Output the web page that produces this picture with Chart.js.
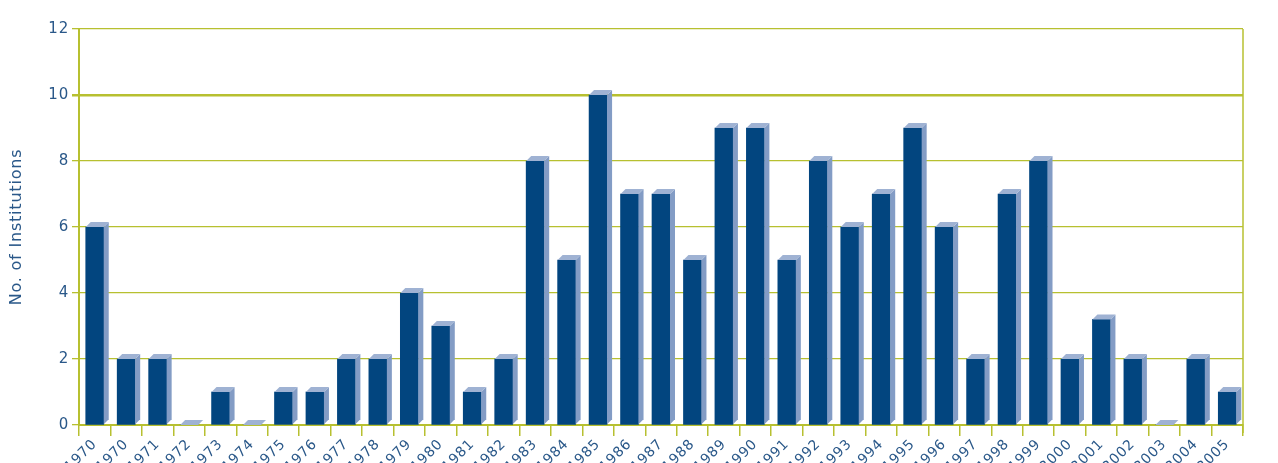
<!DOCTYPE html>
<html lang="en">
<head>
    <meta charset="UTF-8">
    <title>Institutions per year</title>
    <script src="https://cdn.jsdelivr.net/npm/chart.js@4"></script>
    <style>
        html, body { margin: 0; padding: 0; background: #fff; overflow: hidden; }
    </style>
</head>
<body>

<canvas id="institutions_chart" width="1278" height="463"></canvas>

<script>
    var years = ['1970', '1970', '1971', '1972', '1973', '1974', '1975', '1976', '1977', '1978',
        '1979', '1980', '1981', '1982', '1983', '1984', '1985', '1986', '1987', '1988',
        '1989', '1990', '1991', '1992', '1993', '1994', '1995', '1996', '1997', '1998',
        '1999', '2000', '2001', '2002', '2003', '2004', '2005'];
    var institutions = [6, 2, 2, 0, 1, 0, 1, 1, 2, 2,
        4, 3, 1, 2, 8, 5, 10, 7, 7, 5,
        9, 9, 5, 8, 6, 7, 9, 6, 2, 7,
        8, 2, 3.2, 2, 0, 2, 1];
    var yTicks = [0, 2, 4, 6, 8, 10, 12];

    var olive = '#b7c030';
    var navy = '#02457f';
    var labelBlue = '#2a5889';

    // fake 3d cap + side on each bar
    var bars3d = {
        id: 'bars3d',
        beforeDraw: function (chart) {
            chart.ctx.letterSpacing = '0.8px';
        },
        afterDatasetsDraw: function (chart) {
            var ctx = chart.ctx;
            var d = 5;
            ctx.save();
            chart.getDatasetMeta(0).data.forEach(function (bar) {
                var p = bar.getProps(['x', 'y', 'base', 'width'], true);
                var l = p.x - p.width / 2, r = p.x + p.width / 2;
                ctx.fillStyle = '#839cc5';
                ctx.beginPath();
                ctx.moveTo(r, p.y);
                ctx.lineTo(r + d, p.y - d);
                ctx.lineTo(r + d, p.base - d);
                ctx.lineTo(r, p.base);
                ctx.closePath();
                ctx.fill();
                ctx.fillStyle = '#9fb2d3';
                ctx.beginPath();
                ctx.moveTo(l, p.y);
                ctx.lineTo(l + d, p.y - d);
                ctx.lineTo(r + d, p.y - d);
                ctx.lineTo(r, p.y);
                ctx.closePath();
                ctx.fill();
            });
            // right wall line
            var a = chart.chartArea;
            ctx.strokeStyle = olive;
            ctx.lineWidth = 1.5;
            ctx.beginPath();
            ctx.moveTo(a.right, a.top);
            ctx.lineTo(a.right, a.bottom + 8);
            ctx.stroke();
            ctx.restore();
        }
    };

    var ctx = document.getElementById('institutions_chart').getContext('2d');
    var chart = new Chart(ctx, {
        type: 'bar',
        data: {
            labels: years,
            datasets: [{
                data: institutions,
                backgroundColor: navy,
                borderWidth: 0,
                barThickness: 18
            }]
        },
        plugins: [bars3d],
        options: {
            responsive: false,
            animation: false,
            layout: { padding: { top: 29, right: 35, left: 7, bottom: 0 } },
            plugins: {
                legend: { display: false },
                tooltip: { enabled: false }
            },
            scales: {
                x: {
                    offset: true,
                    grid: {
                        display: true,
                        offset: true,
                        drawOnChartArea: false,
                        drawTicks: true,
                        tickLength: 11,
                        color: olive,
                        lineWidth: 1.5
                    },
                    border: { display: true, color: olive, width: 2 },
                    ticks: {
                        autoSkip: false,
                        minRotation: 45,
                        maxRotation: 45,
                        padding: 0,
                        color: labelBlue,
                        font: { family: 'DejaVu Sans', size: 14 }
                    },
                    afterFit: function (scale) { scale.height = 38; }
                },
                y: {
                    min: 0,
                    max: 12,
                    afterBuildTicks: function (scale) {
                        scale.ticks = yTicks.map(function (v) { return { value: v }; });
                    },
                    grid: {
                        color: olive,
                        lineWidth: function (c) { return c.tick && c.tick.value === 10 ? 2.5 : 1.3; },
                        drawTicks: true,
                        tickLength: 7
                    },
                    border: { display: true, color: olive, width: 2 },
                    ticks: {
                        padding: 3,
                        color: labelBlue,
                        font: { family: 'DejaVu Sans', size: 15 }
                    },
                    title: {
                        display: true,
                        text: 'No. of Institutions',
                        color: labelBlue,
                        padding: { top: 0, bottom: 10 },
                        font: { family: 'DejaVu Sans', size: 16 }
                    },
                    afterFit: function (scale) { scale.width = 72; }
                }
            }
        }
    });
</script>
</body>
</html>
